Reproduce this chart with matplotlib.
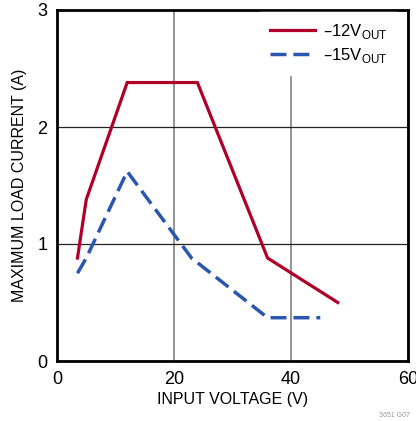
import matplotlib
matplotlib.use("Agg")
import matplotlib.pyplot as plt
from matplotlib import font_manager

names = {f.name for f in font_manager.fontManager.ttflist}
fam = "Liberation Sans Narrow" if "Liberation Sans Narrow" in names else "Liberation Sans"
plt.rcParams['font.family'] = [fam, 'DejaVu Sans']

x12 = [3.5, 5, 12, 24, 36, 48]
y12 = [0.88, 1.38, 2.38, 2.38, 0.88, 0.50]
x15 = [3.5, 5, 12, 23, 36, 45]
y15 = [0.75, 0.88, 1.62, 0.88, 0.37, 0.37]
xticks = [0, 20, 40, 60]
yticks = [0, 1, 2, 3]

fig = plt.figure(figsize=(4.16, 4.21), dpi=100)
ax = fig.add_axes([57/416, 1 - 361/421, (408-57)/416, (361-10)/421])
ax.plot(x12, y12, color='#b0002a', lw=2.3, label='–12V$_{\\mathregular{OUT}}$', solid_joinstyle='miter')
ax.plot(x15, y15, color='#2a56b0', lw=2.5, dashes=(4.6, 2.0), label='–15V$_{\\mathregular{OUT}}$')
ax.set_xlim(0, 60)
ax.set_ylim(0, 3)
ax.set_xticks(xticks)
ax.set_yticks(yticks)
ax.tick_params(length=0, labelsize=13, pad=7)
ax.xaxis.grid(True, color='#8a8a8a', lw=1.3)
ax.yaxis.grid(True, color='#222222', lw=0.9)
for s in ax.spines.values():
    s.set_linewidth(2)
    s.set_zorder(5)
ax.set_xlabel('INPUT VOLTAGE (V)', fontsize=11.5, labelpad=3)
ax.set_ylabel('MAXIMUM LOAD CURRENT (A)', fontsize=11.5, labelpad=7)
leg = ax.legend(loc='upper right', bbox_to_anchor=(0.97, 0.995), fontsize=12, frameon=True,
                fancybox=False, edgecolor='white', framealpha=1, handlelength=2.7,
                handletextpad=0.5, borderaxespad=0.0, borderpad=0.6, labelspacing=0.3)
fig.text(0.985, 0.005, '3651 G07', fontsize=5, color='#999999', ha='right', va='bottom')
fig.savefig('out.png', dpi=100)
